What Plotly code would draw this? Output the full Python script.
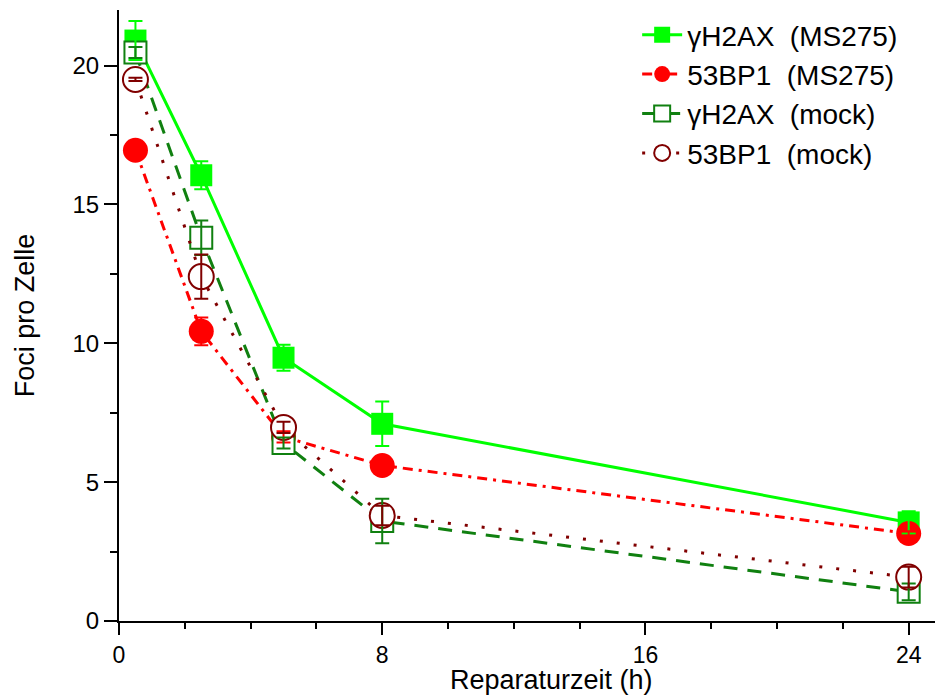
import plotly.graph_objects as go

times = [0.5, 2.5, 5, 8, 24]

h2ax_ms275 = [20.9, 16.05, 9.48, 7.1, 3.55]
h2ax_ms275_err = [0.7, 0.5, 0.47, 0.8, 0.4]

bp1_ms275 = [16.95, 10.43, 6.63, 5.6, 3.15]
bp1_ms275_err = [0.2, 0.5, 0.2, 0.2, 0.08]

h2ax_mock = [20.47, 13.8, 6.41, 3.6, 1.05]
h2ax_mock_err = [0.2, 0.62, 0.2, 0.8, 0.3]

bp1_mock = [19.5, 12.4, 6.97, 3.8, 1.58]
bp1_mock_err = [0.06, 0.8, 0.2, 0.35, 0.37]

names = ["γH2AX\u00a0\u00a0(MS275)", "53BP1\u00a0\u00a0(MS275)",
         "γH2AX\u00a0\u00a0(mock)", "53BP1\u00a0\u00a0(mock)"]

x_ticks = [0, 8, 16, 24]
y_ticks = [0, 5, 10, 15, 20]

series = [
    dict(y=h2ax_ms275, e=h2ax_ms275_err, name=names[0], color="#00FF00",
         dash="solid", symbol="square", size=22, fill="#00FF00", lw=0),
    dict(y=bp1_ms275, e=bp1_ms275_err, name=names[1], color="#FF0000",
         dash="10px,6px,3px,6px", symbol="circle", size=25, fill="#FF0000", lw=0),
    dict(y=h2ax_mock, e=h2ax_mock_err, name=names[2], color="#108010",
         dash="14px,10px", symbol="square", size=22, fill="white", lw=2),
    dict(y=bp1_mock, e=bp1_mock_err, name=names[3], color="#800000",
         dash="3px,14px", symbol="circle", size=25, fill="white", lw=2),
]

fig = go.Figure()
for s in series:
    fig.add_trace(go.Scatter(
        x=times, y=s["y"], name=s["name"], mode="lines+markers",
        line=dict(color=s["color"], width=3, dash=s["dash"]),
        marker=dict(symbol=s["symbol"], size=s["size"], color=s["fill"],
                    line=dict(color=s["color"], width=s["lw"])),
    ))
for s in series:
    fig.add_trace(go.Scatter(
        x=times, y=s["y"], mode="markers", showlegend=False,
        marker=dict(size=1, color="rgba(0,0,0,0)"),
        error_y=dict(type="data", array=s["e"], color=s["color"],
                     thickness=2, width=7),
        hoverinfo="skip",
    ))

font_family = "Liberation Sans, Arial, sans-serif"
fig.update_layout(
    width=935, height=695,
    margin=dict(l=119, r=0, t=10, b=74),
    plot_bgcolor="white", paper_bgcolor="white",
    font=dict(family=font_family, color="black", size=23),
    showlegend=True,
    legend=dict(x=0.635, y=1.0, xanchor="left", yanchor="top",
                font=dict(size=28, family=font_family),
                bgcolor="rgba(0,0,0,0)", itemwidth=40, tracegroupgap=0),
    xaxis=dict(range=[0, 24.8], tickvals=x_ticks, ticktext=[str(v) for v in x_ticks],
               showgrid=False, zeroline=False, showline=True, linecolor="black",
               linewidth=2, ticks="outside", ticklen=12, tickwidth=2, tickcolor="black",
               minor=dict(dtick=2, tick0=0, ticks="outside", ticklen=6, tickwidth=2,
                          tickcolor="black", showgrid=False),
               tickfont=dict(size=23)),
    yaxis=dict(range=[0, 22], tickvals=y_ticks, ticktext=[str(v) for v in y_ticks],
               showgrid=False, zeroline=False, showline=True, linecolor="black",
               linewidth=2, ticks="outside", ticklen=13, tickwidth=2, tickcolor="black",
               minor=dict(dtick=2.5, tick0=0, ticks="outside", ticklen=7, tickwidth=2,
                          tickcolor="black", showgrid=False),
               title=dict(text="Foci pro Zelle", font=dict(size=27), standoff=30),
               tickfont=dict(size=24)),
    annotations=[dict(text="Reparaturzeit (h)", xref="paper", yref="paper",
                      x=0.5306, y=-0.096, xanchor="center", yanchor="middle",
                      showarrow=False, font=dict(size=27, family=font_family))],
)

fig.write_html("out.html")
